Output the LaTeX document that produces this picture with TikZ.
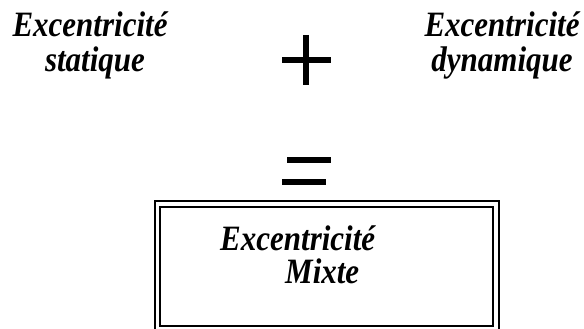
\documentclass[tikz,border=0pt]{standalone}
\usepackage{fontspec}
\setmainfont{Liberation Serif}
\begin{document}
\begin{tikzpicture}[x=1pt,y=1pt,
  lbl/.style={font=\fontsize{31}{35}\selectfont\bfseries\itshape, inner sep=0pt, anchor=base, yscale=1.15, transform shape},
  lblw/.style={lbl, anchor=base west},
  sym/.style={line width=5.5pt},
  frame/.style={line width=2pt}]
\useasboundingbox (0,0) rectangle (584,-329);
% top labels
\node[lbl] (s1) at (90,-37) {Excentricité};
\node[lbl] (s2) at (95,-72) {statique};
\node[lbl] (d1) at (502,-37) {Excentricité};
\node[lbl] (d2) at (502,-72) {dynamique};
% plus
\coordinate (pl) at (282,-60);
\coordinate (pr) at (331,-60);
\coordinate (pt) at (306,-35);
\coordinate (pb) at (306,-85);
\draw[sym] (pl) -- (pr);
\draw[sym] (pt) -- (pb);
% equals
\coordinate (e1a) at (287,-160);
\coordinate (e1b) at (331,-160);
\coordinate (e2a) at (282,-182);
\coordinate (e2b) at (326,-182);
\draw[sym] (e1a) -- (e1b);
\draw[sym] (e2a) -- (e2b);
% double frame
\coordinate (o1) at (155,-329);
\coordinate (o2) at (155,-201.3);
\coordinate (o3) at (499,-201.3);
\coordinate (o4) at (499,-329);
\draw[frame] (o1) -- (o2) -- (o3) -- (o4);
\coordinate (i1) at (159.5,-207);
\coordinate (i2) at (493,-326);
\draw[frame] (i1) rectangle (i2);
% box text
\node[lblw] (m1) at (220,-250) {Excentricité};
\node[lblw] (m2) at (285,-283) {Mixte};
\end{tikzpicture}
\end{document}
